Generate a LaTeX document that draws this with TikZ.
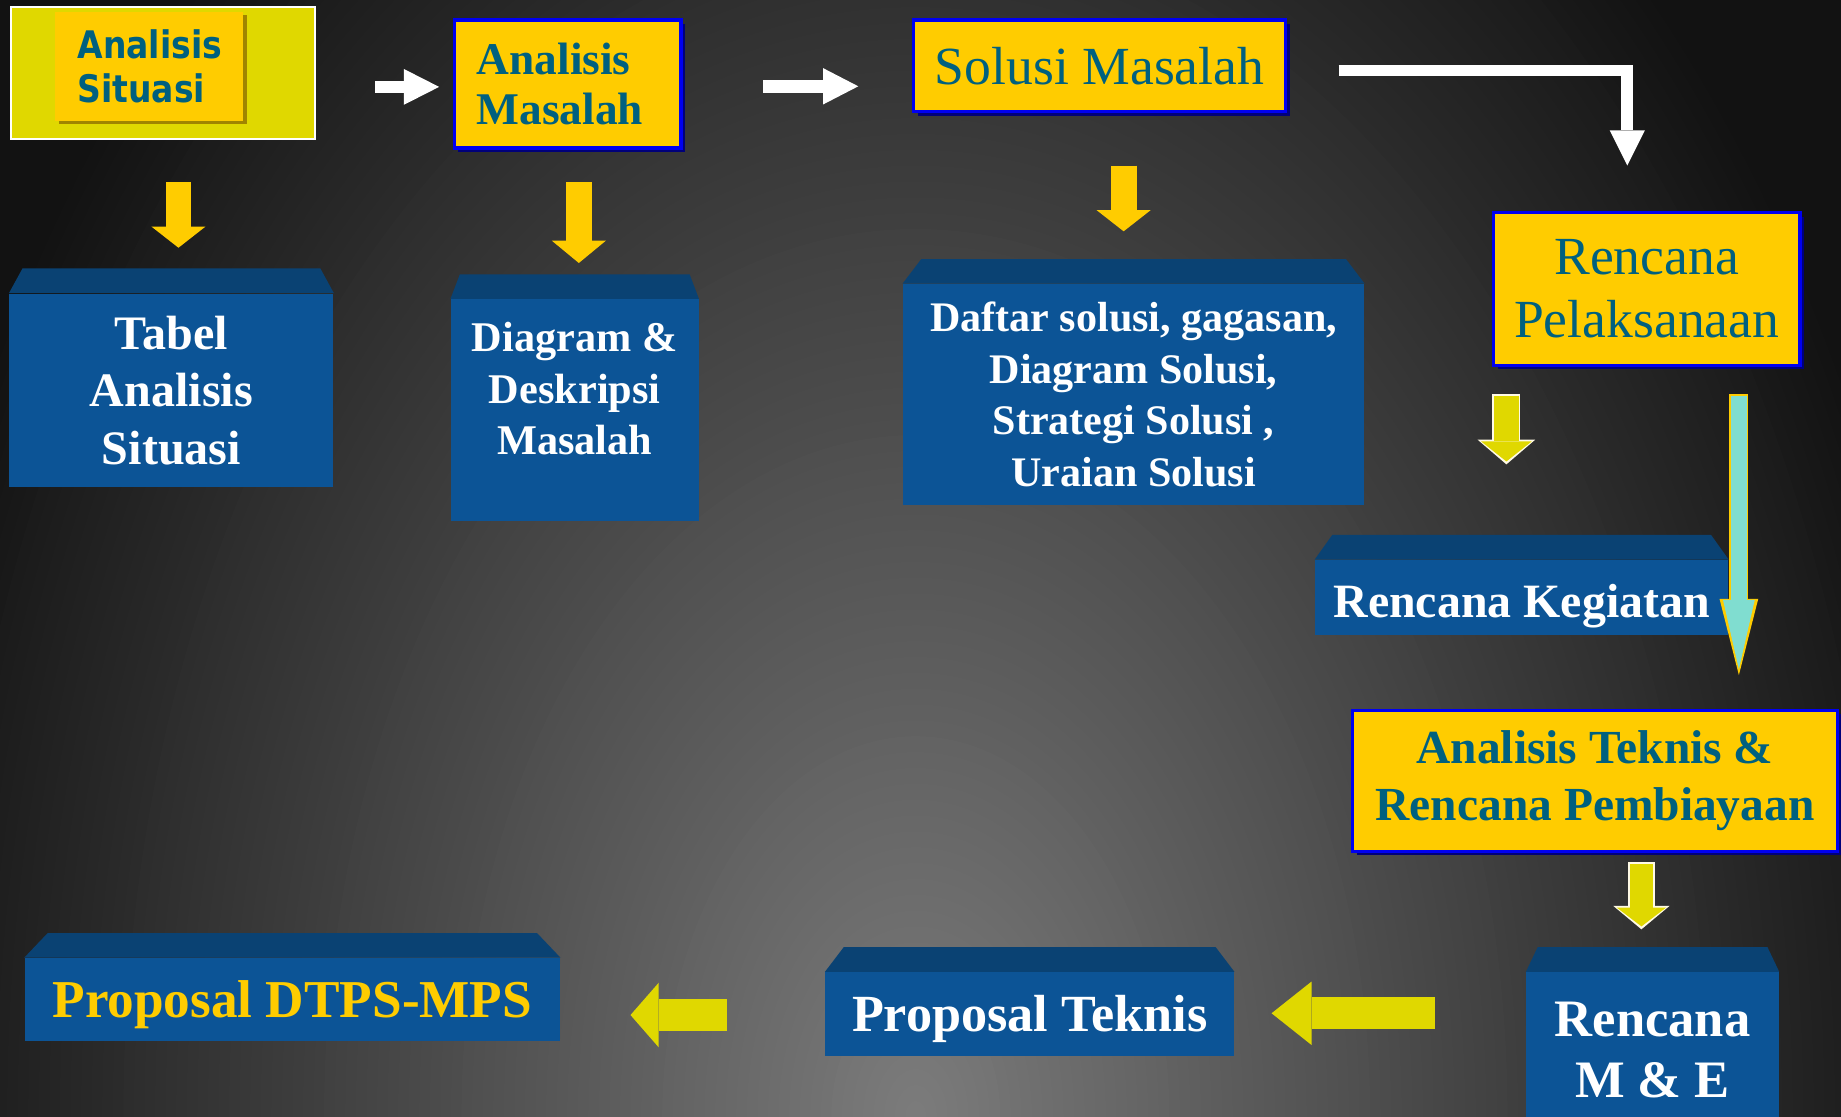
\documentclass[tikz,border=0pt]{standalone}
\usepackage{fontspec}
\setmainfont{Liberation Serif}
\newfontfamily\tahoma[FakeStretch=0.87]{DejaVu Sans}
\usetikzlibrary{arrows.meta,shadows}
\definecolor{gold}{HTML}{FFCC00}
\definecolor{oliveyel}{HTML}{E0D800}
\definecolor{tealtxt}{HTML}{00607F}
\definecolor{boxblue}{HTML}{0C5496}
\definecolor{topblue}{HTML}{0A4273}
\definecolor{rimblue}{HTML}{0000F0}
\definecolor{navyshade}{HTML}{00007A}
\definecolor{goldshade}{HTML}{A08400}
\definecolor{aquaarr}{HTML}{80DDD0}
\definecolor{bgin}{HTML}{7C7C7C}
\definecolor{bgout}{HTML}{121212}
\begin{document}
\begin{tikzpicture}[
  ybox/.style={fill=gold, draw=rimblue, line width=1.6pt, text=tealtxt, inner sep=0pt,
    drop shadow={shadow xshift=0.07cm, shadow yshift=-0.07cm, fill=navyshade, opacity=1}},
  bbox/.style={fill=boxblue, inner sep=0pt, text=white, align=center},
  arr/.style n args={4}{draw=#1, line width=#2, -{Triangle[width=#3, length=#4, line width=0pt]}}
]
\useasboundingbox (0,0) rectangle (31.36,-19.02);
\begin{scope}
\clip (0,0) rectangle (31.36,-19.02);
\fill[bgout] (0,0) rectangle (31.36,-19.02);
\foreach \k in {0,...,99}{
  \pgfmathsetmacro\f{1-\k/100}
  \fill[bgin!\k!bgout] (15.6,-19.02) ellipse ({18*\f} and {27*\f});}
\end{scope}

% yellow boxes
\node[fill=oliveyel, draw=white, line width=1pt, minimum width=5.18cm, minimum height=2.24cm] (sitOut) at (2.77,-1.24) {};
\node[fill=gold, text=tealtxt, inner ysep=0pt, inner xsep=0.38cm, text width=2.44cm, align=left,
  minimum height=1.86cm, font=\tahoma\bfseries\fontsize{18.4pt}{21pt}\selectfont,
  drop shadow={shadow xshift=0.06cm, shadow yshift=-0.06cm, fill=goldshade, opacity=1}]
  (sit) at (2.54,-1.13) {Analisis\\Situasi};
\node[ybox, inner xsep=0.38cm, text width=3.1cm, align=left, minimum height=2.18cm,
  font=\bfseries\fontsize{22pt}{24.5pt}\selectfont] (msl) at (9.67,-1.43) {Analisis\\Masalah};
\node[ybox, minimum width=6.34cm, minimum height=1.56cm, font=\fontsize{26pt}{30pt}\selectfont]
  (sol) at (18.73,-1.12) {Solusi Masalah};
\node[ybox, minimum width=5.22cm, minimum height=2.6cm, align=center, font=\fontsize{26pt}{30.2pt}\selectfont]
  (pel) at (28.05,-4.92) {Rencana\\Pelaksanaan};
\node[ybox, minimum width=8.26cm, minimum height=2.4cm, align=center, font=\bfseries\fontsize{23pt}{27.9pt}\selectfont]
  (tkn) at (27.17,-13.3) {Analisis Teknis \&\\Rencana Pembiayaan};

% blue boxes
\node[bbox, minimum width=5.52cm, minimum height=3.3cm, font=\bfseries\fontsize{23.3pt}{27.9pt}\selectfont]
  (tabel) at (2.92,-6.65) {Tabel\\Analisis\\Situasi};
\node[bbox, minimum width=4.22cm, minimum height=3.78cm] (diag) at (9.79,-6.99) {};
\node[text=white, align=center, inner sep=0pt, font=\bfseries\fontsize{20.5pt}{25pt}\selectfont]
  (diagtxt) at ([yshift=0.37cm]diag.center) {Diagram \&\\Deskripsi\\Masalah};
\node[bbox, minimum width=7.86cm, minimum height=3.76cm, font=\bfseries\fontsize{20.4pt}{25pt}\selectfont]
  (daftar) at (19.31,-6.72) {Daftar solusi, gagasan,\\Diagram Solusi,\\Strategi Solusi ,\\Uraian Solusi};
\node[bbox, minimum width=7.04cm, minimum height=1.28cm, text height=24.8pt, text depth=5.1pt,
  font=\bfseries\fontsize{23.2pt}{27pt}\selectfont] (keg) at (25.92,-10.18) {Rencana Kegiatan};
\node[bbox, text=gold, minimum width=9.12cm, minimum height=1.42cm, text height=23.2pt, text depth=5.6pt,
  font=\bfseries\fontsize{25.8pt}{30pt}\selectfont] (dtps) at (4.98,-17.03) {Proposal DTPS-MPS};
\node[bbox, minimum width=6.96cm, minimum height=1.42cm, text height=22.8pt, text depth=5.5pt,
  font=\bfseries\fontsize{25.3pt}{30pt}\selectfont] (tek) at (17.54,-17.27) {Proposal Teknis};
\node[bbox, minimum width=4.3cm, minimum height=2.64cm, font=\bfseries\fontsize{25.5pt}{29.6pt}\selectfont]
  (mne) at (28.15,-17.88) {Rencana\\M \& E};
\foreach \b/\i in {tabel/.23,diag/.16,daftar/.32,keg/.3,dtps/.4,tek/.32,mne/.2}
  \fill[topblue] (\b.north west) -- ([shift={(\i,0.42)}]\b.north west)
    -- ([shift={(-\i,0.42)}]\b.north east) -- (\b.north east) -- cycle;

% arrow ends
\foreach \nm/\x/\y in {a1s/3.04/-3.1, a1e/3.04/-4.22, a2s/9.86/-3.1, a2e/9.86/-4.48,
  a3s/19.14/-2.82, a3e/19.14/-3.94, w1s/6.39/-1.48, w1e/7.48/-1.48, w2s/13.0/-1.47, w2e/14.62/-1.47,
  e1/22.8/-1.2, e2/27.72/-1.2, e3/27.72/-2.82, o1s/25.66/-6.74, o1e/25.66/-7.86,
  o2s/27.96/-14.72, o2e/27.96/-15.78, cys/29.62/-6.74, cye/29.62/-11.4,
  l1s/24.44/-17.26, l1e/21.66/-17.26, l2s/12.38/-17.29, l2e/10.74/-17.29}
  \coordinate (\nm) at (\x,\y);

\draw[arr={gold}{0.44cm}{0.92cm}{0.36cm}] (a1s) -- (a1e);
\draw[arr={gold}{0.44cm}{0.92cm}{0.38cm}] (a2s) -- (a2e);
\draw[arr={gold}{0.44cm}{0.92cm}{0.36cm}] (a3s) -- (a3e);
\draw[arr={white}{0.21cm}{0.61cm}{0.6cm}] (w1s) -- (w1e);
\draw[arr={white}{0.22cm}{0.62cm}{0.6cm}] (w2s) -- (w2e);
\draw[arr={white}{0.2cm}{0.6cm}{0.6cm}, line join=miter] (e1) -- (e2) -- (e3);
% outlined ones
\draw[arr={white!90!gold}{0.48cm}{0.98cm}{0.42cm}, shorten <=-0.03cm, shorten >=-0.05cm] (o1s) -- (o1e);
\draw[arr={oliveyel}{0.42cm}{0.86cm}{0.34cm}] (o1s) -- (o1e);
\draw[arr={white!90!gold}{0.46cm}{0.96cm}{0.4cm}, shorten <=-0.03cm, shorten >=-0.05cm] (o2s) -- (o2e);
\draw[arr={oliveyel}{0.4cm}{0.84cm}{0.32cm}] (o2s) -- (o2e);
\draw[arr={gold}{0.32cm}{0.66cm}{1.3cm}, shorten <=-0.03cm, shorten >=-0.1cm] (cys) -- (cye);
\draw[arr={aquaarr}{0.26cm}{0.54cm}{1.18cm}] (cys) -- (cye);
\draw[arr={oliveyel}{0.54cm}{1.08cm}{0.68cm}] (l1s) -- (l1e);
\draw[arr={oliveyel}{0.54cm}{1.1cm}{0.48cm}] (l2s) -- (l2e);
\end{tikzpicture}
\end{document}
